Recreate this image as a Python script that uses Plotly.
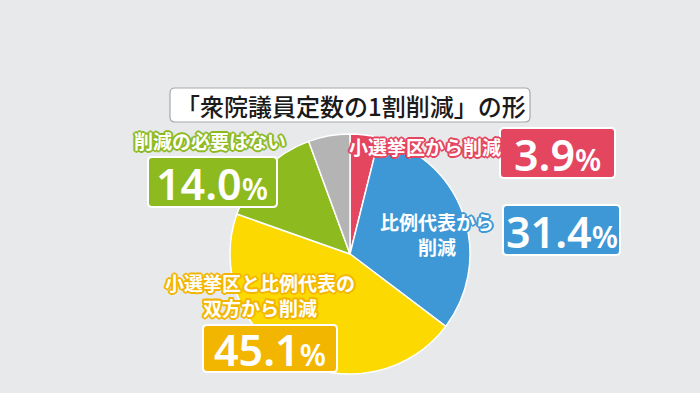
import plotly.graph_objects as go

# ---- data ----
categories = ["小選挙区から削減", "比例代表から削減", "小選挙区と比例代表の双方から削減", "削減の必要はない", "その他・わからない"]
values = [3.9, 31.4, 45.1, 14.0, 5.6]
colors = ["#e4455f", "#3e98d6", "#fcd900", "#8dba1e", "#b4b4b4"]
label_texts = ["小選挙区から削減", "比例代表から<br>削減", "小選挙区と比例代表の<br>双方から削減", "削減の必要はない"]
box_colors = ["#e4455f", "#3e98d6", "#f3b600", "#8dba1e"]
title_text = "「衆院議員定数の1割削減」の形"

W, H = 700, 393
BG = "#e8e9eb"

def px(x):
    return x / W

def py(y):
    return 1 - y / H

def rrect(x0, y0, x1, y1, r, fill, line_color, line_width):
    X0, X1 = px(x0), px(x1)
    Y0, Y1 = py(y0), py(y1)
    rx, ry = r / W, r / H
    path = (f"M {X0+rx},{Y0} L {X1-rx},{Y0} Q {X1},{Y0} {X1},{Y0-ry} "
            f"L {X1},{Y1+ry} Q {X1},{Y1} {X1-rx},{Y1} "
            f"L {X0+rx},{Y1} Q {X0},{Y1} {X0},{Y1+ry} "
            f"L {X0},{Y0-ry} Q {X0},{Y0} {X0+rx},{Y0} Z")
    return dict(type="path", path=path, xref="paper", yref="paper",
                fillcolor=fill, line=dict(color=line_color, width=line_width),
                layer="above")

def outline(c, w=2):
    parts = []
    for dx, dy in [(w, 0), (-w, 0), (0, w), (0, -w), (w*0.7, w*0.7), (-w*0.7, w*0.7), (w*0.7, -w*0.7), (-w*0.7, -w*0.7)]:
        parts.append(f"{dx:.1f}px {dy:.1f}px 0px {c}")
    return ", ".join(parts)

fig = go.Figure()
fig.add_trace(go.Pie(
    labels=categories, values=values, sort=False, direction="clockwise",
    rotation=0, textinfo="none", hoverinfo="label+percent",
    marker=dict(colors=colors, line=dict(color="white", width=1.5)),
    domain=dict(x=[px(230), px(470)], y=[py(374), py(134)]),
    showlegend=False,
))

shapes = []
annotations = []

# title box
shapes.append(rrect(170, 88, 530, 122, 5, "white", "#a8a8a8", 1.2))
annotations.append(dict(x=px(351), y=py(105), xref="paper", yref="paper",
                        xanchor="center", yanchor="middle",
                        text=title_text, showarrow=False,
                        font=dict(family="Noto Sans CJK JP", size=24, color="#1a1a1a", weight=500)))

# label texts centres (red, blue, yellow, green)
label_pos = [(425, 146), (437, 234), (260, 295), (210, 140)]
# number boxes (red, blue, yellow, green)
box_pos = [(500, 128, 615, 178), (503, 205, 620, 255), (203, 325, 337, 372), (148, 157, 277, 207)]

for i in range(4):
    lx, ly = label_pos[i]
    annotations.append(dict(
        x=px(lx), y=py(ly), xref="paper", yref="paper", text=label_texts[i],
        xanchor="center", yanchor="middle",
        showarrow=False, align="center",
        font=dict(family="Noto Sans CJK JP", size=19, color="white", weight="bold",
                  shadow=outline(box_colors[i], 2)),
    ))
    x0, y0, x1, y1 = box_pos[i]
    shapes.append(rrect(x0, y0, x1, y1, 4, box_colors[i], "white", 2))
    num = f"{values[i]:.1f}"
    annotations.append(dict(
        x=px((x0 + x1) / 2), y=py((y0 + y1) / 2 + 1), xref="paper", yref="paper",
        xanchor="center", yanchor="middle",
        text=f"{num}<span style='font-size:30px'>%</span>",
        showarrow=False,
        font=dict(family="Noto Sans", size=43, color="white", weight=600),
    ))

fig.update_layout(
    width=W, height=H,
    margin=dict(l=0, r=0, t=0, b=0),
    paper_bgcolor=BG, plot_bgcolor=BG,
    shapes=shapes, annotations=annotations,
)

fig.write_html("out.html", config={"displayModeBar": False},
               post_script="document.body.style.margin='0px';")
